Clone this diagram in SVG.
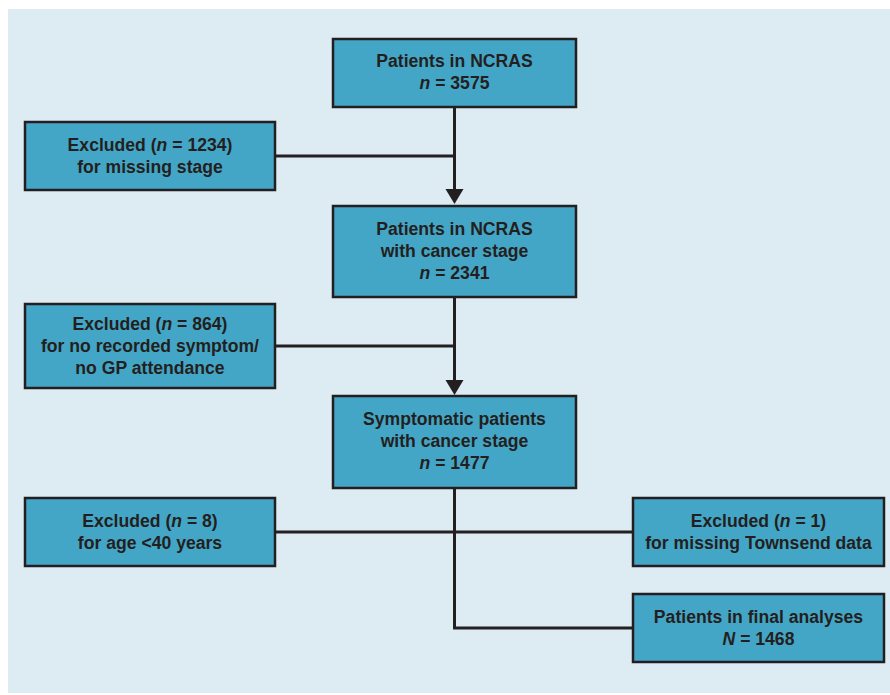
<svg xmlns="http://www.w3.org/2000/svg" width="890" height="695" viewBox="0 0 890 695">
<style>
.bg{fill:#ddebf2}
.box{fill:#44a6c6;stroke:#231f20;stroke-width:2.5}
.t{font-family:"Liberation Sans",Arial,sans-serif;font-weight:bold;font-size:17.6px;fill:#231f20;text-anchor:middle}
.i{font-style:italic}
.ln{fill:none;stroke:#231f20;stroke-width:3}
.ah{fill:#231f20}
</style>
<rect class="bg" x="8" y="9" width="882" height="684"/>
<g id="connectors">
<path class="ln" d="M454.5 107 V190"/>
<path class="ln" d="M275 156 H454.5"/>
<polygon class="ah" points="445.5,189 463.5,189 454.5,204"/>
<path class="ln" d="M454.5 297 V381"/>
<path class="ln" d="M275 346 H454.5"/>
<polygon class="ah" points="445.5,380 463.5,380 454.5,395"/>
<path class="ln" d="M454.5 488 V628 H633"/>
<path class="ln" d="M275 532 H633"/>
</g>
<g id="n1">
<rect class="box" x="333" y="39" width="243" height="68"/>
<text class="t" x="454.5" y="67">Patients in NCRAS</text>
<text class="t" x="454.5" y="89"><tspan class="i">n</tspan> = 3575</text>
</g>
<g id="ex1">
<rect class="box" x="25" y="122" width="250" height="68"/>
<text class="t" x="150" y="151">Excluded (<tspan class="i">n</tspan> = 1234)</text>
<text class="t" x="150" y="173">for missing stage</text>
</g>
<g id="n2">
<rect class="box" x="333" y="206" width="243" height="91"/>
<text class="t" x="454.5" y="235">Patients in NCRAS</text>
<text class="t" x="454.5" y="257">with cancer stage</text>
<text class="t" x="454.5" y="279"><tspan class="i">n</tspan> = 2341</text>
</g>
<g id="ex2">
<rect class="box" x="25" y="304" width="250" height="84"/>
<text class="t" x="150" y="330">Excluded (<tspan class="i">n</tspan> = 864)</text>
<text class="t" x="150" y="352">for no recorded symptom/</text>
<text class="t" x="150" y="374">no GP attendance</text>
</g>
<g id="n3">
<rect class="box" x="333" y="396" width="243" height="92"/>
<text class="t" x="454.5" y="425">Symptomatic patients</text>
<text class="t" x="454.5" y="447">with cancer stage</text>
<text class="t" x="454.5" y="469"><tspan class="i">n</tspan> = 1477</text>
</g>
<g id="ex3">
<rect class="box" x="25" y="498" width="250" height="68"/>
<text class="t" x="150" y="527">Excluded (<tspan class="i">n</tspan> = 8)</text>
<text class="t" x="150" y="549">for age &lt;40 years</text>
</g>
<g id="ex4">
<rect class="box" x="633" y="498" width="251" height="68"/>
<text class="t" x="758.5" y="527">Excluded (<tspan class="i">n</tspan> = 1)</text>
<text class="t" x="758.5" y="549">for missing Townsend data</text>
</g>
<g id="final">
<rect class="box" x="633" y="594" width="251" height="68"/>
<text class="t" x="758.5" y="623">Patients in final analyses</text>
<text class="t" x="758.5" y="645"><tspan class="i">N</tspan> = 1468</text>
</g>
</svg>
